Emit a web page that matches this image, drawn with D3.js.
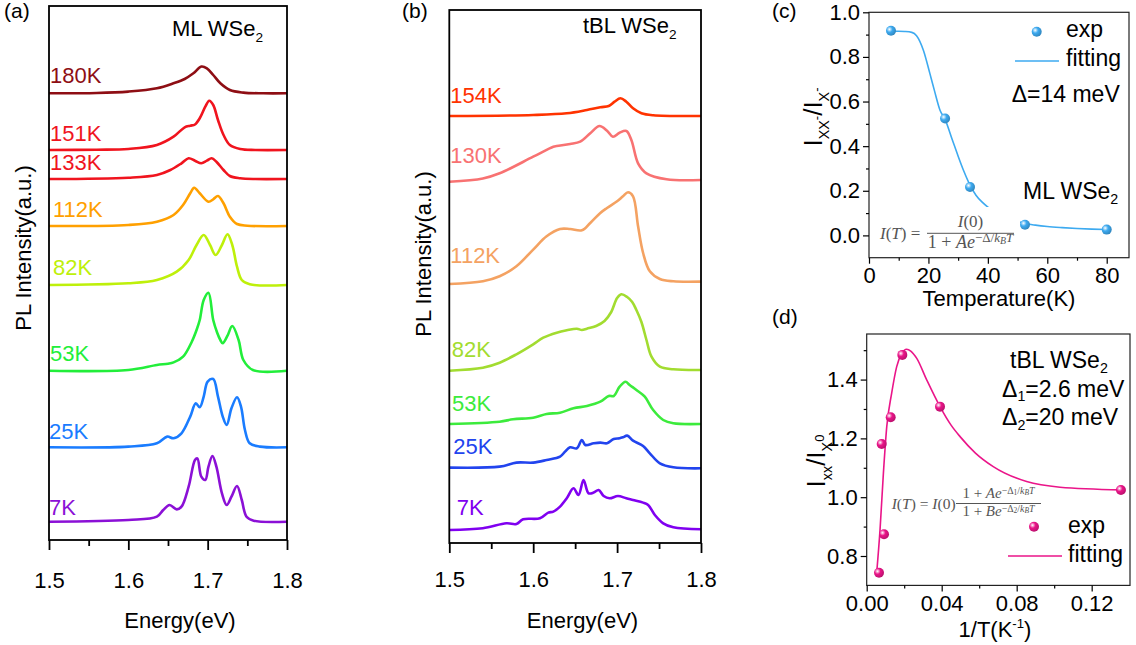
<!DOCTYPE html>
<html><head><meta charset="utf-8">
<script src="https://cdn.jsdelivr.net/npm/d3@7"></script>
<style>body{margin:0;background:#fff}text{font-family:"Liberation Sans",Arial,sans-serif}</style>
</head><body>
<script>
// ---------- DATA ----------
// Panel (a) ML WSe2 : [energy eV, PL intensity a.u.] ; offsets in a.u.
const mlLabels  = ["180K","151K","133K","112K","82K","53K","25K","7K"];
const mlColors  = ["#8E0E14","#F0141E","#F0141E","#FFA000","#BEF00A","#22EE3A","#1A7CFF","#8B10D6"];
const mlOffsets = [446.7,390,361,314,255,169.3,92.7,18.3];
const ml180 = [[1.50,0],[1.56,0.3],[1.60,1.7],[1.636,5],[1.657,10],[1.671,14.3],[1.682,20],[1.692,26.7],[1.699,25],[1.707,18.3],[1.716,10],[1.728,3.3],[1.745,0.7],[1.77,0],[1.80,0]];
const ml151 = [[1.50,0],[1.56,0.3],[1.60,1],[1.636,5],[1.657,13.3],[1.671,22.7],[1.678,24.3],[1.684,25.5],[1.69,31.7],[1.697,43.3],[1.702,49.3],[1.707,45],[1.713,30],[1.72,15],[1.728,5],[1.741,1],[1.76,0],[1.80,0]];
const ml133 = [[1.50,0],[1.60,1.3],[1.636,4],[1.653,9],[1.667,15.7],[1.676,20.7],[1.684,18.3],[1.692,15.7],[1.699,18.3],[1.705,20.7],[1.711,17.3],[1.72,9],[1.728,3],[1.741,0.8],[1.76,0],[1.80,0]];
const ml112 = [[1.50,0],[1.60,1],[1.636,4.3],[1.657,11],[1.669,21],[1.678,32.7],[1.683,38.3],[1.69,32.7],[1.701,24.3],[1.707,26.7],[1.713,30],[1.72,22.7],[1.728,9.3],[1.737,2],[1.75,0.3],[1.80,0]];
const ml82  = [[1.50,0],[1.60,1.7],[1.636,5],[1.661,13.3],[1.676,25],[1.686,40],[1.695,50],[1.703,40],[1.71,30],[1.718,40],[1.725,50.7],[1.731,40],[1.737,18.3],[1.743,5],[1.753,0.7],[1.80,0]];
const ml53  = [[1.50,0],[1.60,0.7],[1.636,5.7],[1.65,7],[1.657,8.3],[1.669,14],[1.68,29],[1.686,40.7],[1.69,50.7],[1.695,70.7],[1.701,78],[1.707,50.7],[1.712,38],[1.716,30.7],[1.719,27.4],[1.725,35],[1.731,44.7],[1.739,30.7],[1.745,10.7],[1.757,0.7],[1.80,0]];
const ml25  = [[1.50,0],[1.60,0.7],[1.636,4],[1.649,10.7],[1.657,9],[1.667,14],[1.678,30.7],[1.685,44],[1.69,40],[1.695,50.7],[1.70,65.7],[1.707,68.3],[1.713,50.7],[1.719,30.7],[1.724,22.3],[1.73,39],[1.737,50],[1.742,40.7],[1.747,17.3],[1.753,4],[1.766,0.7],[1.80,0]];
const ml7   = [[1.50,0],[1.60,1.7],[1.636,5],[1.644,11.7],[1.652,16.7],[1.661,12.3],[1.667,15],[1.676,35],[1.684,61.7],[1.687,63.3],[1.692,45],[1.697,41.7],[1.701,55],[1.706,65.7],[1.711,55],[1.718,28.3],[1.724,16.7],[1.73,25],[1.737,35.7],[1.743,21.7],[1.749,5],[1.758,1],[1.80,0]];
const mlSpectra = [ml180,ml151,ml133,ml112,ml82,ml53,ml25,ml7];

// Panel (b) tBL WSe2
const blLabels  = ["154K","130K","112K","82K","53K","25K","7K"];
const blColors  = ["#FF3300","#F87272","#F4A262","#A2DC30","#3CEB3C","#2244EE","#8000F0"];
const blOffsets = [427,362,259.7,173,119,74.7,13.7];
const bl154 = [[1.50,0],[1.60,1],[1.64,2.7],[1.664,6],[1.68,8.7],[1.69,10],[1.697,14.3],[1.704,17.7],[1.711,14.3],[1.719,7.7],[1.729,2.7],[1.743,0.7],[1.80,0]];
const bl130 = [[1.50,-0.7],[1.54,2.5],[1.56,7.7],[1.60,24.3],[1.624,34.3],[1.628,35],[1.644,37],[1.656,39.3],[1.668,47.7],[1.679,55],[1.688,50.3],[1.695,44.3],[1.703,48.3],[1.711,50],[1.717,41],[1.725,17.7],[1.735,7.7],[1.759,1.7],[1.80,1]];
const bl112 = [[1.50,-0.7],[1.54,2],[1.56,7],[1.58,17],[1.60,33.7],[1.616,47],[1.632,54.3],[1.644,54.3],[1.658,53],[1.668,60.3],[1.68,70.3],[1.688,75.3],[1.70,82],[1.707,87],[1.713,91],[1.719,87],[1.725,57],[1.731,30.3],[1.739,12],[1.751,4.3],[1.767,2],[1.80,1.7]];
const bl82  = [[1.50,-0.7],[1.54,2.3],[1.56,7.3],[1.58,15.7],[1.60,25.7],[1.612,32.3],[1.628,37.3],[1.64,39.7],[1.652,41.3],[1.658,40],[1.664,41.3],[1.675,44],[1.685,49],[1.693,58],[1.70,72],[1.705,75.7],[1.712,73],[1.718,68],[1.723,60],[1.729,48],[1.735,30],[1.741,13.3],[1.751,3.3],[1.767,0.7],[1.80,0]];
const bl53  = [[1.50,0],[1.56,2.3],[1.576,4.7],[1.60,6.3],[1.616,10],[1.632,11.3],[1.648,15.7],[1.664,18],[1.68,22.3],[1.69,28],[1.696,28],[1.703,37.3],[1.71,42.3],[1.715,39],[1.723,34],[1.733,27.3],[1.743,14],[1.755,4],[1.767,0.7],[1.80,0]];
const bl25  = [[1.50,0.7],[1.56,1.7],[1.58,5.7],[1.60,5.7],[1.616,8.3],[1.632,11.7],[1.638,16.7],[1.644,21],[1.652,20],[1.658,28.3],[1.662,23.3],[1.672,25],[1.68,25.7],[1.688,25],[1.696,29.3],[1.703,30],[1.707,31],[1.712,32.7],[1.719,27.7],[1.731,22.3],[1.739,15],[1.751,5],[1.767,1],[1.80,0]];
const bl7   = [[1.50,-0.7],[1.54,1],[1.568,6],[1.58,5.3],[1.588,10],[1.608,11],[1.618,16.7],[1.624,17.7],[1.632,22.7],[1.64,31],[1.648,41],[1.654,34.3],[1.66,49.3],[1.666,36],[1.672,36.7],[1.678,39.3],[1.684,33.3],[1.691,31],[1.701,33.3],[1.711,31],[1.719,29.3],[1.731,26.7],[1.737,24.3],[1.745,14.3],[1.755,6],[1.767,2],[1.80,0]];
const blSpectra = [bl154,bl130,bl112,bl82,bl53,bl25,bl7];

const energyTicks = [1.5,1.6,1.7,1.8];
const energyMinor = [1.55,1.65,1.75];

// Panel (c)
const cTemp  = [7.4,25.6,34,52.5,80];
const cRatio = [0.917,0.524,0.217,0.048,0.026];
const cFitT  = [7,10,12,14.4,16,18.3,20.5,22,23.9,25.6,28,30,32,34,36,38,40,43,46,50,53,56,60,65,70,75,80];
const cFitR  = [0.915,0.915,0.914,0.91,0.895,0.83,0.725,0.65,0.561,0.52,0.43,0.355,0.285,0.225,0.18,0.15,0.127,0.1,0.08,0.062,0.052,0.046,0.04,0.035,0.031,0.028,0.026];
const cXTicks = [0,20,40,60,80], cXMinor=[10,30,50,70];
const cYTicks = [0,0.2,0.4,0.6,0.8,1.0], cYMinor=[0.1,0.3,0.5,0.7,0.9];

// Panel (d)
const dInvT  = [0.00656,0.008,0.00923,0.0128,0.019,0.0391,0.1356];
const dRatio = [0.743,1.181,0.874,1.272,1.484,1.308,1.0245];
const dFitX  = [0.0053,0.0071,0.0089,0.0107,0.0133,0.016,0.0187,0.0213,0.0235,0.0267,0.032,0.0391,0.045,0.0498,0.058,0.0675,0.0853,0.1031,0.1356];
const dFitY  = [0.741,0.888,1.081,1.24,1.353,1.444,1.489,1.503,1.497,1.472,1.399,1.308,1.245,1.206,1.15,1.104,1.053,1.034,1.025];
const dXTicks=[0,0.04,0.08,0.12], dXMinor=[0.02,0.06,0.10];
const dYTicks=[0.8,1.0,1.2,1.4], dYMinor=[0.9,1.1,1.3,1.5];

// ---------- DRAW ----------
const svg = d3.select("body").append("svg").attr("width",1136).attr("height",645);
svg.append("rect").attr("width",1136).attr("height",645).attr("fill","#fff");
const defs = svg.append("defs");
function ballGrad(id,col){
  const g=defs.append("radialGradient").attr("id",id).attr("cx","35%").attr("cy","35%").attr("r","65%");
  g.append("stop").attr("offset","0%").attr("stop-color","#fff");
  g.append("stop").attr("offset","45%").attr("stop-color",col);
  g.append("stop").attr("offset","100%").attr("stop-color",d3.color(col).darker(0.6));
}
const cBlue="#3DAAF0", dPink="#EA1589";
ballGrad("gc",cBlue); ballGrad("gd",dPink);

// parts: {t, s:"sub"|"sup"|"supsub", i:italic}
function rich(sel, parts, size, o){
  let shift=0;
  const subF=o.subF||0.62, supF=o.supF||0.68, subS=o.subS||0.25, supS=o.supS||0.42;
  const ssS=o.ssS||0.22, ssF=o.ssF||0.55;
  parts.forEach(p=>{
    let target=0, fs=size;
    if(p.s==="sub"){target=size*subS; fs=size*subF;}
    else if(p.s==="sup"){target=-size*supS; fs=size*supF;}
    else if(p.s==="supsub"){target=-size*ssS; fs=size*ssF;}
    const ts=sel.append("tspan").text(p.t).attr("dy",target-shift).attr("font-size",fs);
    if(p.i) ts.attr("font-style","italic");
    shift=target;
  });
}
function txt(x,y,parts,size,opts={}){
  const t=svg.append("text").attr("x",x).attr("y",y).attr("font-size",size)
    .attr("fill",opts.fill||"#000").attr("text-anchor",opts.anchor||"start");
  if(opts.family) t.style("font-family",opts.family);
  if(opts.rotate) t.attr("transform",`rotate(-90,${x},${y})`);
  if(typeof parts==="string") t.text(parts); else rich(t,parts,size,opts);
  return t;
}
function styleAxis(g,fs){
  g.select(".domain").remove();
  g.selectAll("line").attr("stroke","#000").attr("stroke-width",1.2);
  g.selectAll("text").attr("font-size",fs).attr("fill","#000").style("font-family","Liberation Sans, Arial, sans-serif");
}

// Spectra panels
function spectraPanel(x0,x1,yTop,yBot,yMax,spectra,offsets,colors,labels,lifts,labelDx,pad){
  const x=d3.scaleLinear([1.5,1.8],[x0,x1]);
  const y=d3.scaleLinear([0,yMax],[yBot,yTop]);
  const line=d3.line().x(d=>x(d[0])).y(d=>y(d[1])).curve(d3.curveCatmullRom.alpha(0.5));
  spectra.forEach((s,i)=>{
    svg.append("path").datum(s.map(p=>[p[0],p[1]+offsets[i]])).attr("d",line)
      .attr("fill","none").attr("stroke",colors[i]).attr("stroke-width",2.6).attr("stroke-linejoin","round");
    svg.append("text").attr("x",x(1.5)+labelDx[i]).attr("y",y(offsets[i])-lifts[i])
      .attr("font-size",22).attr("fill",colors[i]).text(labels[i]);
  });
  svg.append("rect").attr("x",x0).attr("y",yTop).attr("width",x1-x0).attr("height",yBot-yTop)
    .attr("fill","none").attr("stroke","#000").attr("stroke-width",1.8);
  const ga=svg.append("g").attr("transform",`translate(0,${yBot})`)
    .call(d3.axisBottom(x).tickValues(energyTicks).tickFormat(d3.format(".1f")).tickSize(10).tickPadding(pad));
  styleAxis(ga,22); ga.selectAll("line").attr("stroke-width",1.8);
  const gm=svg.append("g").attr("transform",`translate(0,${yBot})`)
    .call(d3.axisBottom(x).tickValues(energyMinor).tickFormat("").tickSize(6));
  styleAxis(gm,22); gm.selectAll("line").attr("stroke-width",1.8);
}
spectraPanel(49,287,6,540,534,mlSpectra,mlOffsets,mlColors,mlLabels,
  [10,9.3,9,9.3,10,9.7,8,6.7],[1,1,1,4,4,1,0,0],22);
spectraPanel(449.3,701,10,543,533,blSpectra,blOffsets,blColors,blLabels,
  [13,17.7,20,13.3,13.3,14.3,14.3],[1,1,1,2.4,2.7,4,7.4],18.5);

// titles for a,b
txt(172,36,[{t:"ML WSe"},{t:"2",s:"sub"}],22);
txt(583,33.3,[{t:"tBL WSe"},{t:"2",s:"sub"}],22);
txt(180,628,"Energy(eV)",22,{anchor:"middle"});
txt(582.5,628,"Energy(eV)",22,{anchor:"middle"});
txt(31,248,"PL Intensity(a.u.)",22,{anchor:"middle",rotate:true});
txt(431,254,"PL Intensity(a.u.)",22,{anchor:"middle",rotate:true});
txt(4,18,"(a)",21); txt(402,18,"(b)",21);
txt(772,18,"(c)",21); txt(772,324,"(d)",21);

// Panel (c)
{
  const x=d3.scaleLinear([0,87.5],[869,1129]);
  const y=d3.scaleLinear([-0.1,1.0],[257.7,12.3]);
  const line=d3.line().x(d=>x(d[0])).y(d=>y(d[1])).curve(d3.curveMonotoneX);
  svg.append("path").datum(cFitT.map((t,i)=>[t,cFitR[i]])).attr("d",line)
    .attr("fill","none").attr("stroke",cBlue).attr("stroke-width",1.6);
  svg.append("rect").attr("x",878).attr("y",207).attr("width",142).attr("height",47).attr("fill","#fff");
  // formula
  const fam="Liberation Serif, Times New Roman, serif", fc="#555";
  txt(880,238.5,[{t:"I",i:1},{t:"("},{t:"T",i:1},{t:") ="}],17,{family:fam,fill:fc});
  txt(970.5,227,[{t:"I",i:1},{t:"(0)"}],17,{family:fam,fill:fc,anchor:"middle"});
  svg.append("line").attr("x1",927).attr("x2",1014).attr("y1",233.3).attr("y2",233.3).attr("stroke",fc).attr("stroke-width",1);
  txt(970.5,248,[{t:"1 + "},{t:"Ae",i:1},{t:"\u2212\u0394/",s:"sup"},{t:"k",s:"sup",i:1},{t:"B",s:"supsub",i:1},{t:"T",s:"sup",i:1}],18,
      {family:fam,fill:fc,anchor:"middle",supF:0.72,supS:0.36,ssS:0.2});
  svg.append("g").selectAll("circle").data(cTemp).join("circle")
    .attr("cx",d=>x(d)).attr("cy",(d,i)=>y(cRatio[i])).attr("r",5).attr("fill","url(#gc)");
  svg.append("rect").attr("x",869).attr("y",12.3).attr("width",260).attr("height",245.4)
    .attr("fill","none").attr("stroke","#222").attr("stroke-width",1.2);
  const gx=svg.append("g").attr("transform","translate(0,257.7)")
    .call(d3.axisBottom(x).tickValues(cXTicks).tickFormat(d3.format("d")).tickSize(6).tickPadding(3.5));
  styleAxis(gx,22);
  styleAxis(svg.append("g").attr("transform","translate(0,257.7)").call(d3.axisBottom(x).tickValues(cXMinor).tickFormat("").tickSize(3)),22);
  const gy=svg.append("g").attr("transform","translate(869,0)")
    .call(d3.axisLeft(y).tickValues(cYTicks).tickFormat(d3.format(".1f")).tickSize(6).tickPadding(3));
  styleAxis(gy,22);
  styleAxis(svg.append("g").attr("transform","translate(869,0)").call(d3.axisLeft(y).tickValues(cYMinor).tickFormat("").tickSize(3)),22);
  // legend & notes
  svg.append("circle").attr("cx",1036.7).attr("cy",31.7).attr("r",5).attr("fill","url(#gc)");
  txt(1066,37.3,"exp",23);
  svg.append("line").attr("x1",1015).attr("x2",1059).attr("y1",61).attr("y2",61).attr("stroke",cBlue).attr("stroke-width",1.6);
  txt(1066,66,"fitting",23);
  txt(1011.7,101.7,"\u0394=14 meV",23);
  txt(1023,199.3,[{t:"ML WSe"},{t:"2",s:"sub"}],23,{subS:0.22});
  txt(999,306,"Temperature(K)",22,{anchor:"middle"});
  txt(822,117,[{t:"I"},{t:"XX",s:"sub"},{t:"-",s:"sup"},{t:"/I"},{t:"X",s:"sub"},{t:"-",s:"sup"}],26,
      {anchor:"middle",rotate:true,subF:0.55,supF:0.5,subS:0.25,supS:0.05});
}

// Panel (d)
{
  const x=d3.scaleLinear([0,0.14044],[866.7,1130]);
  const y=d3.scaleLinear([0.7,1.555],[585.4,334]);
  const line=d3.line().x(d=>x(d[0])).y(d=>y(d[1])).curve(d3.curveMonotoneX);
  svg.append("path").datum(dFitX.map((t,i)=>[t,dFitY[i]])).attr("d",line)
    .attr("fill","none").attr("stroke",dPink).attr("stroke-width",1.6);
  const fam="Liberation Serif, Times New Roman, serif", fc="#555";
  txt(891.7,508.5,[{t:"I",i:1},{t:"("},{t:"T",i:1},{t:") = "},{t:"I",i:1},{t:"(0)"}],15.5,{family:fam,fill:fc});
  svg.append("line").attr("x1",956).attr("x2",1041).attr("y1",503.5).attr("y2",503.5).attr("stroke",fc).attr("stroke-width",1);
  const fo={family:fam,fill:fc,anchor:"middle",supF:0.66,supS:0.3,ssS:0.18,ssF:0.5};
  txt(998.5,498,[{t:"1 + "},{t:"Ae",i:1},{t:"\u2212\u0394",s:"sup"},{t:"1",s:"supsub"},{t:"/",s:"sup"},{t:"k",s:"sup",i:1},{t:"B",s:"supsub",i:1},{t:"T",s:"sup",i:1}],15,fo);
  txt(998.5,516,[{t:"1 + "},{t:"Be",i:1},{t:"\u2212\u0394",s:"sup"},{t:"2",s:"supsub"},{t:"/",s:"sup"},{t:"k",s:"sup",i:1},{t:"B",s:"supsub",i:1},{t:"T",s:"sup",i:1}],15,fo);
  svg.append("g").selectAll("circle").data(dInvT).join("circle")
    .attr("cx",d=>x(d)).attr("cy",(d,i)=>y(dRatio[i])).attr("r",5).attr("fill","url(#gd)");
  svg.append("rect").attr("x",866.7).attr("y",334).attr("width",263.3).attr("height",251.4)
    .attr("fill","none").attr("stroke","#222").attr("stroke-width",1.2);
  const gx=svg.append("g").attr("transform","translate(0,585.4)")
    .call(d3.axisBottom(x).tickValues(dXTicks).tickFormat(d3.format(".2f")).tickSize(6).tickPadding(3.5));
  styleAxis(gx,22);
  styleAxis(svg.append("g").attr("transform","translate(0,585.4)").call(d3.axisBottom(x).tickValues(dXMinor).tickFormat("").tickSize(3)),22);
  const gy=svg.append("g").attr("transform","translate(866.7,0)")
    .call(d3.axisLeft(y).tickValues(dYTicks).tickFormat(d3.format(".1f")).tickSize(6).tickPadding(3));
  styleAxis(gy,22);
  styleAxis(svg.append("g").attr("transform","translate(866.7,0)").call(d3.axisLeft(y).tickValues(dYMinor).tickFormat("").tickSize(3)),22);
  svg.append("circle").attr("cx",1034).attr("cy",526.7).attr("r",5).attr("fill","url(#gd)");
  txt(1068,533.3,"exp",23);
  svg.append("line").attr("x1",1008).attr("x2",1062).attr("y1",556).attr("y2",556).attr("stroke",dPink).attr("stroke-width",1.6);
  txt(1068,561.7,"fitting",23);
  txt(1010,368,[{t:"tBL WSe"},{t:"2",s:"sub"}],23,{subS:0.2});
  txt(1002,396.7,[{t:"\u0394"},{t:"1",s:"sub"},{t:"=2.6 meV"}],23,{subS:0.2});
  txt(1002,425,[{t:"\u0394"},{t:"2",s:"sub"},{t:"=20 meV"}],23,{subS:0.2});
  txt(995,636.7,[{t:"1/T(K"},{t:"-1",s:"sup"},{t:")"}],22,{anchor:"middle",supF:0.6,supS:0.38});
  txt(825,461,[{t:"I"},{t:"xx",s:"sub"},{t:"/I"},{t:"X",s:"sub"},{t:"0",s:"sup"}],26,
      {anchor:"middle",rotate:true,subF:0.55,supF:0.5,subS:0.25,supS:0.05});
}
</script>
</body></html>
